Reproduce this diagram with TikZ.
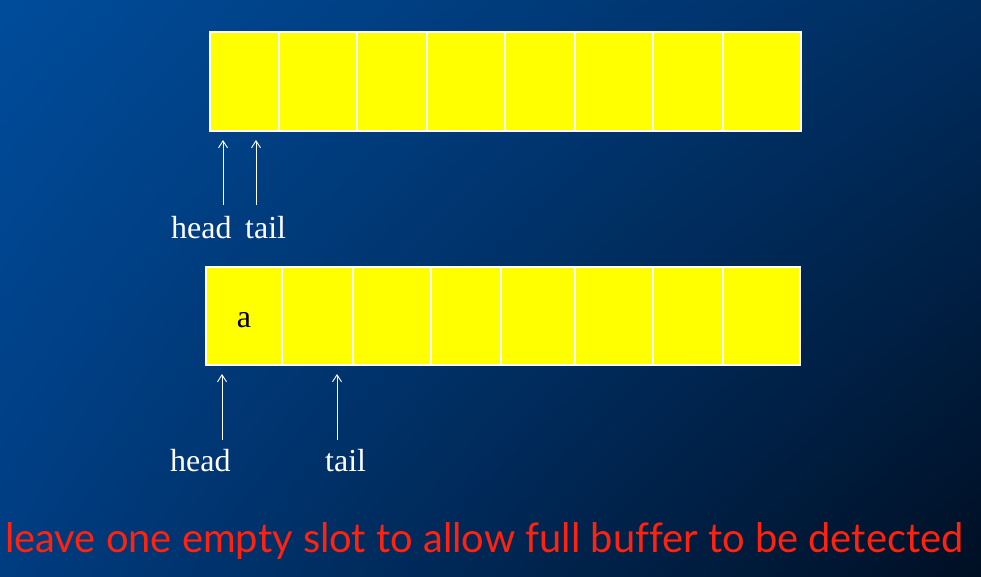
\documentclass[tikz,border=0pt]{standalone}
\usepackage{fontspec}
\setmainfont{Liberation Serif}
\newfontfamily\capfont[Ligatures=NoCommon]{Lato}
\usetikzlibrary{arrows.meta,shadings}
\definecolor{bgTL}{RGB}{0,76,155}
\definecolor{bgTR}{RGB}{0,45,95}
\definecolor{bgBL}{RGB}{0,60,128}
\definecolor{bgBR}{RGB}{0,15,35}
\definecolor{capred}{RGB}{255,35,15}
\definecolor{cellyellow}{RGB}{255,255,0}
\tikzset{
  cell/.style={draw=white, fill=cellyellow, line width=1.2pt, inner sep=0pt, outer sep=0pt},
  ptr/.style={draw=white, line width=0.9pt, -{Straight Barb[length=7pt,width=9pt]}},
  lbl/.style={text=white, font=\fontsize{32}{36}\selectfont, inner sep=0pt, anchor=base west},
}
\begin{document}
\begin{tikzpicture}[x=1pt,y=-1pt]
\shade[upper left=bgTL, upper right=bgTR, lower left=bgBL, lower right=bgBR] (0,0) rectangle (981,577);
\useasboundingbox (0,0) rectangle (981,577);
% top row
\foreach \a/\b [count=\i] in {210/279,279/357,357/427,427/505,505/575,575/653,653/723,723/801}
  \node[cell, minimum width={(\b-\a)*1pt}, minimum height=99pt] (t\i) at ({(\a+\b)/2},81.5) {};
% bottom row
\foreach \a/\b [count=\i] in {206/282,282/353,353/431,431/501,501/575,575/653,653/723,723/800}
  \node[cell, minimum width={(\b-\a)*1pt}, minimum height=98pt] (b\i) at ({(\a+\b)/2},316) {};
\node[inner sep=0pt, anchor=base, font=\fontsize{32}{36}\selectfont, text=black] (av) at (244,327) {a};
% top labels
\node[lbl] (th) at (171,238) {head};
\node[lbl] (tt) at (245,238) {tail};
\coordinate (thS) at (223,205); \coordinate (thE) at (223,140);
\coordinate (ttS) at (256,205); \coordinate (ttE) at (256,140);
\draw[ptr] (thS) -- (thE);
\draw[ptr] (ttS) -- (ttE);
% bottom labels
\node[lbl] (bh) at (170,471) {head};
\node[lbl] (bt) at (325,471) {tail};
\coordinate (bhS) at (222,440); \coordinate (bhE) at (222,374);
\coordinate (btS) at (337,440); \coordinate (btE) at (337,374);
\draw[ptr] (bhS) -- (bhE);
\draw[ptr] (btS) -- (btE);
% caption
\node[inner sep=0pt, anchor=base west, text=capred] (cap) at (5,552)
  {\resizebox{958pt}{30pt}{\capfont leave one empty slot to allow full buffer to be detected}};
\end{tikzpicture}
\end{document}
